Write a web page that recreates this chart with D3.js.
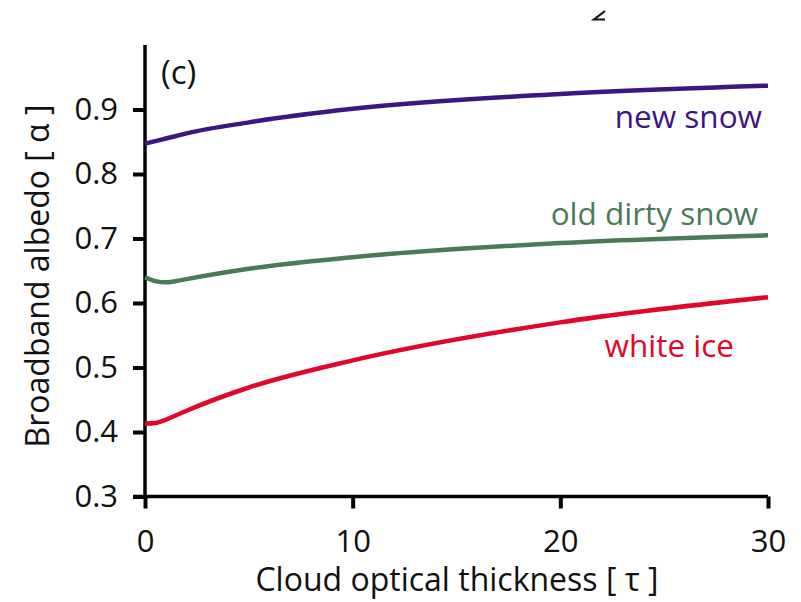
<!DOCTYPE html>
<html>
<head>
<meta charset="utf-8">
<script src="https://cdn.jsdelivr.net/npm/d3@7"></script>
<style>
  html, body { margin: 0; padding: 0; background: #fff; }
  svg { display: block; }
  text { font-family: "Open Sans", "Noto Sans", sans-serif; }
</style>
</head>
<body>
<svg id="chart" width="801" height="602"></svg>
<script>
// Cloud optical thickness (tau) sample points
const tau = [0, 0.5, 1, 1.5, 2, 5, 10, 20, 30];

// Broadband albedo for each surface type
const newSnow      = [0.847, 0.851, 0.855, 0.859, 0.863, 0.880, 0.901, 0.924, 0.937];
const oldDirtySnow = [0.640, 0.634, 0.632, 0.634, 0.637, 0.653, 0.671, 0.693, 0.705];
const whiteIce     = [0.413, 0.414, 0.419, 0.426, 0.433, 0.469, 0.511, 0.570, 0.609];

const seriesNames  = ["new snow", "old dirty snow", "white ice"];
const seriesValues = [newSnow, oldDirtySnow, whiteIce];
const seriesColors = ["#3b1782", "#4b7a59", "#e0062c"];

const xTicks = [0, 10, 20, 30];
const yTicks = [0.3, 0.4, 0.5, 0.6, 0.7, 0.8, 0.9];

const FONT = '"Open Sans", "Noto Sans", sans-serif';
const svg = d3.select("#chart");

const x = d3.scaleLinear().domain([0, 30]).range([145, 768]);
const y = d3.scaleLinear().domain([0.3, 0.9]).range([496.5, 109.5]);

// Axes
const axisY = svg.append("g")
  .attr("transform", `translate(${x(0)},0)`)
  .call(d3.axisLeft(y).tickValues(yTicks).tickFormat(d3.format(".1f")).tickSize(12).tickPadding(15));
axisY.select(".domain").attr("d", `M0,${y(0.3)}V45`);

const axisX = svg.append("g")
  .attr("transform", `translate(0,${y(0.3)})`)
  .call(d3.axisBottom(x).tickValues(xTicks).tickSize(12).tickPadding(21));
axisX.select(".domain").attr("d", `M${x(0) - 12},0H${x(30)}`);

svg.selectAll(".domain").attr("stroke", "#000").attr("stroke-width", 3.5);
svg.selectAll(".tick line").attr("stroke", "#000").attr("stroke-width", 4);
svg.selectAll(".tick text").attr("fill", "#111")
  .style("font-size", "31px").style("font-family", FONT);

// Curves
const line = d3.line()
  .x((d, i) => x(tau[i]))
  .y(d => y(d))
  .curve(d3.curveMonotoneX);

svg.append("g").selectAll("path.series")
  .data(seriesValues)
  .join("path")
  .attr("class", "series")
  .attr("d", line)
  .attr("fill", "none")
  .attr("stroke", (d, i) => seriesColors[i])
  .attr("stroke-width", 4.5)
  .attr("stroke-linejoin", "round");

// Series labels
const labelPos = [
  { x: 762, y: 128 },
  { x: 758, y: 225 },
  { x: 734, y: 357 }
];
svg.append("g").selectAll("text.lbl")
  .data(seriesNames)
  .join("text")
  .attr("class", "lbl")
  .attr("x", (d, i) => labelPos[i].x)
  .attr("y", (d, i) => labelPos[i].y)
  .attr("text-anchor", "end")
  .attr("fill", (d, i) => seriesColors[i])
  .style("font-size", "31.5px")
  .text(d => d);

// Panel tag
svg.append("text")
  .attr("x", 161).attr("y", 84)
  .attr("fill", "#111")
  .style("font-size", "33px")
  .text("(c)");

// Axis titles
svg.append("text")
  .attr("x", 457).attr("y", 591)
  .attr("text-anchor", "middle")
  .attr("fill", "#111")
  .style("font-size", "32px")
  .text("Cloud optical thickness [ τ ]");

svg.append("text")
  .attr("transform", "translate(49,276) rotate(-90)")
  .attr("text-anchor", "middle")
  .attr("fill", "#111")
  .style("font-size", "32px")
  .text("Broadband albedo [ α ]");

// Lower stroke of a glyph from the panel above
svg.append("path")
  .attr("d", "M605,11 L594,19.5 L605,19.5")
  .attr("fill", "none")
  .attr("stroke", "#111")
  .attr("stroke-width", 2.2);
</script>
</body>
</html>
